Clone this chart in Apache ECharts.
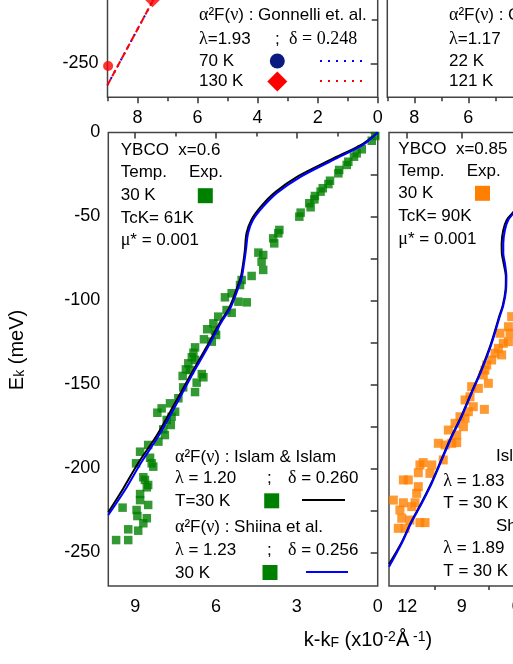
<!DOCTYPE html>
<html>
<head>
<meta charset="utf-8">
<title>YBCO dispersion</title>
<script src="https://cdn.jsdelivr.net/npm/echarts@6/dist/echarts.min.js"></script>
<style>
  html, body { margin: 0; padding: 0; background: #fff; }
  #chart { width: 513px; height: 664px; }
</style>
</head>
<body>
<div id="chart"></div>
<script>
// ---- tick values ----
const xTicksTop = [8, 6, 4, 2, 0]
const xMinorTop = [9, 7, 5, 3, 1]
const xTicksLeft = [9, 6, 3, 0]
const xMinorLeft = [7.5, 4.5, 1.5]
const xTicksRight = [12, 9, 6, 3, 0]
const xMinorRight = [10.5, 7.5, 4.5, 1.5]
const yTicksTop = [-250, -200]
const yMinorTop = [-225, -175]
const yTicks = [0, -50, -100, -150, -200, -250]
const yMinor = [-25, -75, -125, -175, -225]

// ---- top panel: Gonnelli et al. ----
const gonnelli70 = [[9.0, -262.5], [7.0, -198]]
const gonnelli130 = [[9.0, -262.5], [7.0, -198]]
const gonnelli130Circle = [[8.98, -251.5]]
const gonnelli130Diamond = [[7.5, -213]]

// ---- YBCO x=0.6, experiment 30 K ----
const exp06 = [
  [0.09, -2.1], [0.22, -4.9], [0.59, -10.0], [0.78, -12.4], [0.88, -14.4], [1.09, -17.4],
  [1.15, -19.3], [1.43, -22.3], [1.46, -24.3], [1.77, -28.7], [1.83, -30.7], [2.04, -33.2],
  [2.12, -35.2], [2.33, -37.8], [2.35, -39.8], [2.54, -42.1], [2.49, -44.5], [2.86, -47.7],
  [2.91, -50.1], [3.65, -58.0], [3.69, -60.0], [3.88, -63.0], [3.84, -66.0], [4.43, -71.5],
  [4.25, -72.9], [4.31, -76.9], [4.25, -81.8], [4.68, -85.4], [5.05, -87.8], [5.11, -90.8],
  [5.42, -95.7], [5.67, -98.1], [5.17, -100.7], [4.86, -101.1], [5.61, -105.7], [5.42, -107.3],
  [5.92, -109.6], [6.10, -113.6], [6.33, -117.1], [6.04, -118.0], [6.00, -120.5], [6.45, -123.1],
  [6.16, -124.5], [6.78, -127.9], [6.84, -131.1], [6.90, -133.8], [6.78, -135.4], [7.03, -137.4],
  [7.12, -141.0], [6.97, -141.4], [6.53, -143.8], [7.24, -144.9], [6.47, -145.7], [6.72, -148.9],
  [7.22, -151.7], [6.78, -154.5], [7.40, -158.2], [7.71, -161.2], [8.02, -164.2], [7.52, -166.2],
  [8.18, -166.8], [7.65, -169.2], [7.83, -171.1], [7.68, -174.1], [7.96, -176.7], [7.90, -180.1],
  [8.14, -184.0], [8.52, -186.0], [8.82, -190.0], [8.45, -193.6], [8.97, -196.9], [8.39, -196.9],
  [8.33, -198.9], [8.70, -205.2], [8.64, -206.8], [8.52, -209.8], [8.57, -211.2], [8.82, -215.2],
  [8.82, -218.8], [8.52, -221.7], [9.47, -223.3], [8.95, -224.7], [8.92, -228.3], [8.57, -229.6],
  [8.70, -232.6], [9.26, -236.2], [8.89, -237.0], [9.71, -242.6], [9.26, -242.6]
]
// Islam & Islam (black) and Shiina et al. (blue), x=0.6
const islam06 = [
  [0, 0], [0.58, -7.0], [1.72, -16.0], [2.95, -26.0], [3.80, -35.5], [4.33, -44.0], [4.69, -52.0],
  [4.87, -60.0], [4.93, -70.0], [4.99, -77.5], [5.08, -86.0], [5.16, -89.8], [5.50, -104.0],
  [5.87, -113.5], [6.35, -127.6], [6.98, -145.3], [7.59, -163.0], [8.22, -180.8], [8.86, -196.0],
  [9.45, -212.0], [10.0, -226.0]
]
const shiina06 = [
  [0, 0], [0.55, -7.4], [1.66, -16.4], [2.88, -26.5], [3.74, -36.0], [4.26, -44.3], [4.63, -52.1],
  [4.81, -59.8], [4.89, -69.9], [4.96, -77.7], [5.04, -86.0], [5.11, -89.6], [5.45, -103.9],
  [5.82, -113.4], [6.30, -127.7], [6.93, -145.5], [7.53, -163.4], [8.16, -181.3], [8.79, -196.7],
  [9.38, -212.8], [10.0, -227.7]
]

// ---- YBCO x=0.85, experiment 30 K ----
const exp085 = [
  [6.26, -109.6], [6.44, -115.6], [6.90, -119.5], [6.35, -119.5], [6.44, -124.5], [6.72, -125.5],
  [6.99, -128.5], [7.18, -131.4], [6.81, -132.4], [7.36, -135.4], [7.63, -138.4], [7.73, -141.4],
  [7.82, -144.3], [7.54, -149.3], [8.09, -152.3], [8.46, -151.3], [8.55, -157.3], [8.82, -159.2],
  [8.37, -163.2], [8.64, -166.2], [7.76, -164.8], [9.10, -169.2], [8.82, -170.1], [8.91, -175.1],
  [9.37, -173.1], [9.74, -177.1], [9.28, -180.1], [9.55, -185.0], [9.28, -184.6], [10.29, -185.0],
  [9.92, -186.0], [10.02, -194.9], [11.12, -196.5], [11.30, -197.9], [10.65, -197.9], [10.75, -202.9],
  [11.39, -202.5], [12.21, -206.8], [11.94, -206.8], [11.39, -210.8], [11.48, -214.8], [12.76, -218.8],
  [12.21, -220.4], [11.57, -220.4], [11.75, -222.7], [12.40, -224.7], [12.30, -229.6], [11.85, -230.7],
  [11.30, -232.2], [11.02, -232.2], [12.49, -235.6], [12.12, -235.6]
]
const islam085 = [
  [0, 0], [2.0, -12], [4.0, -25], [5.5, -38], [6.22, -48.0], [6.53, -52.0], [6.72, -58.0],
  [6.81, -66.0], [6.80, -72.0], [6.70, -78.0], [6.58, -85.8], [6.60, -93.8], [6.75, -103.0],
  [6.93, -109.0], [7.39, -125.5], [7.94, -141.4], [8.49, -155.2], [9.04, -169.2], [9.58, -181.1],
  [10.13, -194.9], [10.68, -208.8], [11.23, -220.7], [11.78, -231.7], [12.33, -244.5], [13.0, -257.0]
]
const shiina085 = [
  [0, 0], [2.0, -12], [4.0, -25], [5.5, -38], [6.17, -48.1], [6.45, -52.1], [6.63, -58.0],
  [6.72, -66.0], [6.72, -71.9], [6.63, -77.9], [6.55, -85.8], [6.57, -93.8], [6.72, -103.0],
  [6.90, -109.0], [7.36, -125.5], [7.91, -141.4], [8.46, -155.2], [9.01, -169.2], [9.55, -181.1],
  [10.10, -194.9], [10.65, -208.8], [11.20, -220.7], [11.75, -231.7], [12.30, -244.5], [13.0, -258.5]
]

const sans = '"Liberation Sans", Arial, sans-serif'
const serif = '"Liberation Serif", "Times New Roman", serif'
const tickColor = '#333'
const green = '#008000'
const orange = '#ff8000'

const chart = echarts.init(document.getElementById('chart'), null, { renderer: 'canvas' })

/** value axis with ticks only at the given values */
function axis(grid, range, values, o) {
  return {
    type: 'value',
    gridIndex: grid,
    min: range[0],
    max: range[1],
    inverse: !!o.inverse,
    position: o.position,
    splitLine: { show: false },
    axisLine: { show: false },
    axisTick: {
      show: true,
      inside: !!o.inside,
      length: o.len,
      customValues: values,
      lineStyle: { color: tickColor, width: 1.5 }
    },
    axisLabel: {
      show: !!o.label,
      customValues: values,
      margin: o.margin || 10,
      fontSize: 18,
      fontFamily: sans,
      color: '#000'
    }
  }
}

const rich = {
  g: { fontFamily: serif, fontSize: 18, fill: '#000' },
  sub: { fontFamily: sans, fontSize: 14, verticalAlign: 'bottom', fill: '#000' },
  sup: { fontFamily: sans, fontSize: 14, verticalAlign: 'top', fill: '#000' },
  n: { fontFamily: sans, fontSize: 20, fill: '#000' }
}

/** plain legend text */
function txt(x, y, text, extra) {
  return {
    type: 'text',
    x: x,
    y: y,
    z: 100,
    style: Object.assign({
      text: text,
      fontSize: 17,
      fontFamily: sans,
      fill: '#000',
      verticalAlign: 'middle',
      align: 'left',
      rich: rich
    }, extra || {})
  }
}

function square(cx, cy, color) {
  return { type: 'rect', z: 100, shape: { x: cx - 7.5, y: cy - 7.5, width: 15, height: 15 }, style: { fill: color } }
}

function sample(x1, x2, y, color, dash) {
  return { type: 'line', z: 100, shape: { x1: x1, y1: y, x2: x2, y2: y }, style: { stroke: color, lineWidth: 2, lineDash: dash || null } }
}

const grids = [
  { left: 107.5, top: -110, width: 270.2, height: 207.3 },
  { left: 387.3, top: -110, width: 243, height: 207.3 },
  { left: 108.3, top: 132.5, width: 269.4, height: 453.6 },
  { left: 389, top: 132.5, width: 236.6, height: 453.6 }
].map(g => Object.assign({
  show: true, borderColor: '#444', borderWidth: 1.5, backgroundColor: 'transparent',
  outerBoundsMode: 'none', containLabel: false
}, g))

const topY = [-269.6, -149.8]
const mainY = [-270, 0]

const xAxes = [
  axis(0, [0, 9], xTicksTop, { inverse: true, position: 'bottom', len: 6, label: true, margin: 12 }),
  axis(0, [0, 9], xMinorTop, { inverse: true, position: 'bottom', len: 4 }),
  axis(1, [0, 9], xTicksTop, { inverse: true, position: 'bottom', len: 6, label: true, margin: 12 }),
  axis(1, [0, 9], xMinorTop, { inverse: true, position: 'bottom', len: 4 }),
  axis(2, [0, 10], xTicksLeft, { inverse: true, position: 'bottom', len: 6, label: true, margin: 12 }),
  axis(2, [0, 10], xMinorLeft, { inverse: true, position: 'bottom', len: 4 }),
  axis(3, [0, 13], xTicksRight, { inverse: true, position: 'bottom', len: 6, label: true, margin: 12 }),
  axis(3, [0, 13], xMinorRight, { inverse: true, position: 'bottom', len: 4 })
]

const yAxes = [
  axis(0, topY, yTicksTop, { position: 'left', len: 7, label: true, margin: 9 }),
  axis(0, topY, yMinorTop, { position: 'left', len: 4 }),
  axis(0, topY, yTicksTop.concat(yMinorTop), { position: 'right', len: 6, inside: true }),
  axis(1, topY, yTicksTop.concat(yMinorTop), { position: 'left', len: 5 }),
  axis(2, mainY, yTicks, { position: 'left', len: 7, label: true, margin: 8 }),
  axis(2, mainY, yMinor, { position: 'left', len: 4 }),
  axis(2, mainY, yTicks.concat(yMinor), { position: 'right', len: 7, inside: true }),
  axis(3, mainY, yTicks.concat(yMinor), { position: 'left', len: 4 })
]

const series = [
  // top panel
  { type: 'line', xAxisIndex: 0, yAxisIndex: 0, data: gonnelli70, symbol: 'none', lineStyle: { color: '#0000ff', width: 2, type: [2, 5] } },
  { type: 'line', xAxisIndex: 0, yAxisIndex: 0, data: gonnelli130, symbol: 'none', lineStyle: { color: '#ff0000', width: 2, type: [7, 3] } },
  { type: 'scatter', xAxisIndex: 0, yAxisIndex: 0, data: gonnelli130Circle, symbol: 'circle', symbolSize: 10, itemStyle: { color: '#ff0000' }, clip: false },
  { type: 'scatter', xAxisIndex: 0, yAxisIndex: 0, data: gonnelli130Diamond, symbol: 'diamond', symbolSize: 16, itemStyle: { color: '#ff0000' } },
  // x = 0.6
  { type: 'scatter', xAxisIndex: 4, yAxisIndex: 4, data: exp06, symbol: 'rect', symbolSize: 8.5, itemStyle: { color: green } },
  { type: 'line', xAxisIndex: 4, yAxisIndex: 4, data: islam06, symbol: 'none', smooth: 0.3, lineStyle: { color: '#000', width: 2 } },
  { type: 'line', xAxisIndex: 4, yAxisIndex: 4, data: shiina06, symbol: 'none', smooth: 0.3, lineStyle: { color: '#0000ff', width: 2 } },
  // x = 0.85
  { type: 'scatter', xAxisIndex: 6, yAxisIndex: 7, data: exp085, symbol: 'rect', symbolSize: 9, itemStyle: { color: orange } },
  { type: 'line', xAxisIndex: 6, yAxisIndex: 7, data: islam085, symbol: 'none', smooth: 0.3, lineStyle: { color: '#000', width: 2 } },
  { type: 'line', xAxisIndex: 6, yAxisIndex: 7, data: shiina085, symbol: 'none', smooth: 0.3, lineStyle: { color: '#0000ff', width: 2 } }
].map(s => Object.assign({ silent: true, animation: false }, s))

const graphic = [
  // top-left legend
  txt(199, 15, '{g|α}²F({g|ν}) : Gonnelli et. al.'),
  txt(199, 39, '{g|λ}=1.93'),
  txt(275, 39, ';'),
  txt(289, 39, 'δ = 0.248', { fontFamily: serif, fontSize: 18 }),
  txt(199, 61, '70 K'),
  txt(199, 81, '130 K'),
  { type: 'circle', z: 100, shape: { cx: 277.3, cy: 61, r: 7.5 }, style: { fill: '#0a1a80' } },
  { type: 'polygon', z: 100, shape: { points: [[277.3, 71.5], [287.3, 81.5], [277.3, 91.5], [267.3, 81.5]] }, style: { fill: '#ff0000' } },
  sample(320, 362, 61, '#0000ff', [2, 6]),
  sample(320, 362, 81, '#ff0000', [2, 6]),
  // top-right legend
  txt(449, 15, '{g|α}²F({g|ν}) : Gonnelli et. al.'),
  txt(449, 39, '{g|λ}=1.17'),
  txt(449, 61, '22 K'),
  txt(449, 81, '121 K'),
  // x=0.6 panel
  txt(120.7, 150, 'YBCO  x=0.6'),
  txt(120.7, 172, 'Temp.'),
  txt(189, 172, 'Exp.'),
  txt(120.7, 195, '30 K'),
  square(205.3, 195.7, green),
  txt(120.7, 218, 'TcK= 61K'),
  txt(120.7, 240, '{g|μ}* = 0.001'),
  txt(175, 457, '{g|α}²F({g|ν}) : Islam & Islam'),
  txt(175, 478, '{g|λ} = 1.20'),
  txt(267, 478, ';'),
  txt(288, 478, '{g|δ} = 0.260'),
  txt(175, 501, 'T=30 K'),
  square(271.7, 500.8, green),
  sample(302, 345, 500, '#000'),
  txt(175, 527, '{g|α}²F({g|ν}) : Shiina et al.'),
  txt(175, 550, '{g|λ} = 1.23'),
  txt(267, 550, ';'),
  txt(288, 550, '{g|δ} = 0.256'),
  txt(175, 573, '30 K'),
  square(270, 572.5, green),
  sample(306, 348, 572, '#0000ff'),
  // x=0.85 panel
  txt(398.3, 149.3, 'YBCO  x=0.85'),
  txt(398.3, 171, 'Temp.'),
  txt(466.7, 171, 'Exp.'),
  txt(398.3, 193.3, '30 K'),
  square(482.5, 193.3, orange),
  txt(398.3, 216.7, 'TcK= 90K'),
  txt(398.3, 239.3, '{g|μ}* = 0.001'),
  txt(496, 456.7, 'Islam & Islam'),
  txt(443.3, 481.7, '{g|λ} = 1.83'),
  txt(443.3, 503.3, 'T = 30 K'),
  txt(496, 526.7, 'Shiina et al.'),
  txt(443.3, 548.3, '{g|λ} = 1.89'),
  txt(443.3, 571.7, 'T = 30 K'),
  // axis names
  txt(368, 640, '{n|k-k}{sub|F}{n| (x10}{sup|-2}{n|Å}{sup| -1}{n|)}', { align: 'center', fontSize: 20 }),
  {
    type: 'text', x: 17, y: 350, rotation: Math.PI / 2, z: 100,
    style: { text: '{n|E}{sub|k}{n| (meV)}', rich: rich, align: 'center', verticalAlign: 'middle', fontSize: 20, fontFamily: sans, fill: '#000' }
  }
]

chart.setOption({
  animation: false,
  backgroundColor: '#fff',
  grid: grids,
  xAxis: xAxes,
  yAxis: yAxes,
  series: series,
  graphic: graphic
})
</script>
</body>
</html>
